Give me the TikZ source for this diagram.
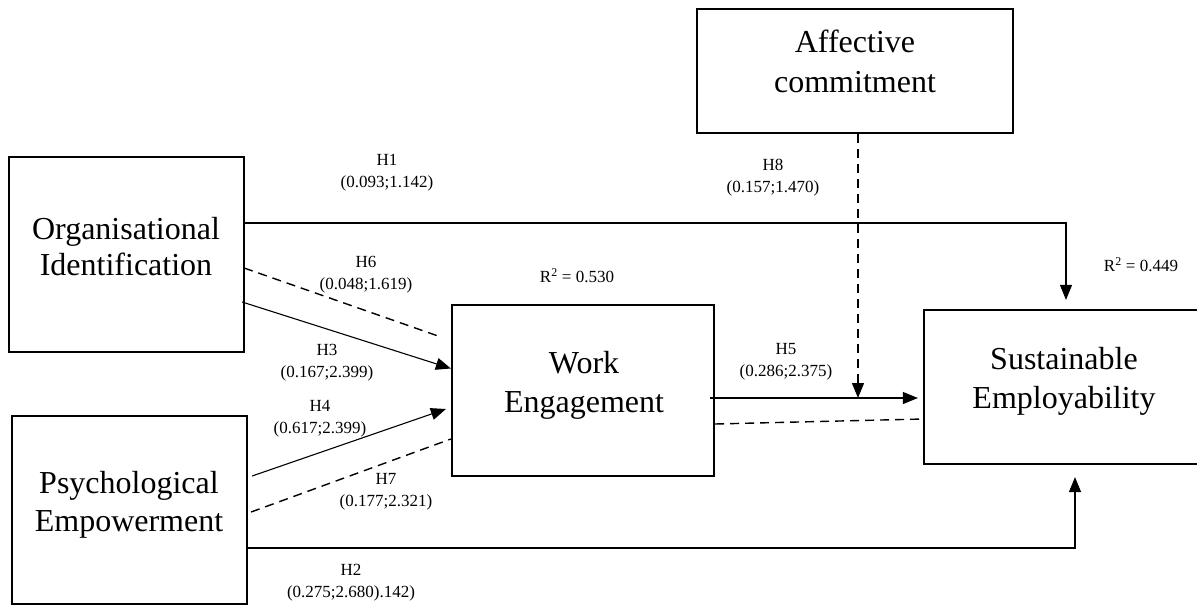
\documentclass[tikz,border=0pt]{standalone}
\usepackage{fontspec}
\setmainfont{Liberation Serif}
\usetikzlibrary{arrows.meta,calc}
\begin{document}
\begin{tikzpicture}[x=1pt,y=-1pt,
  box/.style={draw, line width=2.2pt, inner sep=0pt},
  big/.style={align=center, inner sep=0pt, font=\fontsize{32}{38}\selectfont},
  lab/.style={align=center, inner sep=0pt, font=\fontsize{17}{22}\selectfont},
  conn/.style={line width=1.1pt},
  arr/.style={-{Triangle[length=15pt,width=12pt]}},
  dsh/.style={line width=1.4pt, dash pattern=on 9pt off 6pt}]
\useasboundingbox (0,0) rectangle (1197,608);
% boxes
\node[box, minimum width=235pt, minimum height=195pt] (OI) at (126.5,254.5) {};
\node[box, minimum width=235pt, minimum height=188pt] (PE) at (129.5,510) {};
\node[box, minimum width=262pt, minimum height=171pt] (WE) at (583,390.5) {};
\node[box, minimum width=316pt, minimum height=124pt] (AC) at (855,71) {};
\node[box, minimum width=280pt, minimum height=154pt] (SE) at (1064,387) {};
% box texts
\node[big, font=\fontsize{32}{36}\selectfont] (tOI) at (126,247) {Organisational\\Identification};
\node[big] (tPE) at (129,505) {Psychological\\Empowerment};
\node[big, font=\fontsize{32}{39}\selectfont] (tWE) at (584,385) {Work\\Engagement};
\node[big, font=\fontsize{32}{40}\selectfont] (tAC) at (855,61.5) {Affective\\commitment};
\node[big, font=\fontsize{32}{39}\selectfont] (tSE) at (1064,381) {Sustainable\\Employability};
% connectors
\draw[conn,arr,shorten >=9pt] ($(OI.east)+(0,-31.5)$) -| ($(SE.north)+(2,0)$);
\draw[conn,arr,shorten >=12pt] ($(PE.east)+(0,38)$) -| ($(SE.south)+(11,0)$);
\draw[conn,arr] ($(OI.east)+(-3,47.5)$) -- ($(WE.west)+(0,-22)$);
\draw[conn,arr] ($(PE.east)+(4,-34)$) -- ($(WE.west)+(-5,18.5)$);
\draw[conn,dsh] ($(OI.east)+(-1,13.5)$) -- ($(WE.west)+(-10,-53.5)$);
\draw[conn,dsh] ($(PE.east)+(3,2)$) -- ($(WE.west)+(0,48.5)$);
\coordinate (h5s) at ($(WE.east)+(-5,7.5)$);
\draw[conn,arr] (h5s) -- ($(SE.west)+(-5,11)$);
\draw[conn,dsh] ($(WE.east)+(0,33.5)$) -- ($(SE.west)+(0,32)$);
\coordinate (acb) at ($(AC.south)+(3,0)$);
\coordinate (acm) at (acb |- h5s);
\draw[conn,dsh,arr] (acb) -- (acm);
% labels
\node[lab] (l1) at (387,173) {H1\\(0.093;1.142)};
\node[lab] (l6) at (366,274.5) {H6\\(0.048;1.619)};
\node[lab] (l3) at (327,363) {H3\\(0.167;2.399)};
\node[lab] (l4) at (320,418.5) {H4\\(0.617;2.399)};
\node[lab] (l7) at (386,492) {H7\\(0.177;2.321)};
\node[lab] (l2) at (351,583) {H2\\(0.275;2.680).142)};
\node[lab] (l8) at (773,177.5) {H8\\(0.157;1.470)};
\node[lab] (l5) at (786,361.5) {H5\\(0.286;2.375)};
\node[lab] (r1) at (577,276) {R\textsuperscript{2} = 0.530};
\node[lab] (r2) at (1141,265) {R\textsuperscript{2} = 0.449};
\end{tikzpicture}
\end{document}
